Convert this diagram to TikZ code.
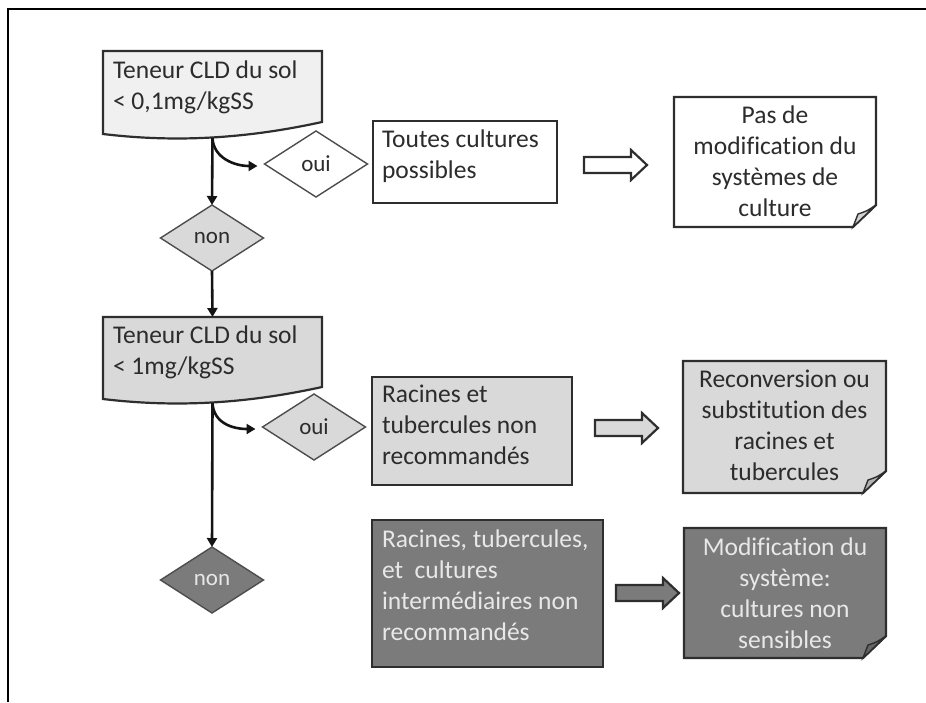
\documentclass[tikz,border=0pt]{standalone}
\usepackage{fontspec}
\setmainfont[Ligatures=NoCommon]{Carlito}
\usetikzlibrary{shapes.geometric,arrows.meta,calc}

\definecolor{ink}{HTML}{2C2C2C}
\definecolor{edge}{HTML}{2E2E2E}
\definecolor{paleA}{HTML}{F0F0F0}
\definecolor{lightB}{HTML}{D9D9D9}
\definecolor{darkC}{HTML}{7B7B7B}
\definecolor{onDark}{HTML}{E8E8E8}

\newcommand\boxfont{\fontsize{25.5}{31}\selectfont}

% document sheet with a wavy lower edge, drawn around an empty node
\newcommand\docsheet[2]{%
  \filldraw[outline, fill=#2]
    (#1.south east) -- (#1.north east) -- (#1.north west)
    -- ($(#1.south west)+(0,12)$)
    .. controls ($(#1.south east)+(-152,20)$) and ($(#1.south east)+(-82,18)$) .. (#1.south east)
    -- cycle;}

% note card with a folded lower right corner
\newcommand\notecard[2]{%
  \filldraw[outline, fill=#2]
    (#1.north west) -- (#1.north east) -- ($(#1.south east)+(0,-22)$)
    -- ($(#1.south east)+(-23,0)$) -- (#1.south west) -- cycle;
  \filldraw[outline, line width=1.4pt, fill=#2!82!black]
    ($(#1.south east)+(-23,0)$) -- ($(#1.south east)+(-18,-13)$)
    .. controls ($(#1.south east)+(-9,-16)$) .. ($(#1.south east)+(0,-22)$) -- cycle;}

% wide hollow arrow: start x, centre y, fill
\newcommand\blockarrow[3]{%
  \filldraw[outline, fill=#3]
    (#1,#2-8) -- ++(47,0) -- ++(0,-7) -- ++(16,15) -- ++(-16,15)
    -- ++(0,-7) -- ++(-47,0) -- cycle;}

\begin{document}
\begin{tikzpicture}[x=1pt,y=-1pt,
  outline/.style={draw=edge, line width=2.2pt, line join=miter},
  frame/.style={rectangle, inner sep=0, outer sep=0, anchor=north west},
  cardbox/.style={frame, outline},
  txt/.style={inner sep=0, outer sep=0, font=\boxfont, text=ink, align=left, anchor=north west},
  ctxt/.style={txt, align=center, anchor=north},
  dia/.style={diamond, draw=edge!85, line width=1.4pt, minimum width=103, minimum height=66,
              inner sep=0, outer sep=0, font=\fontsize{23}{25}\selectfont, text=ink},
  flow/.style={draw=black!92, line width=2.6pt, -{Triangle[length=9pt,width=10pt]}}
]
\useasboundingbox (0,0) rectangle (926,702);

% page frame
\draw[line width=2.6pt, black] (926,9) -- (8,9) -- (8,702);

% ---------- first test: < 0,1 mg/kgSS ----------
\node[frame, minimum width=219, minimum height=71] (doc1) at (103,51) {};
\docsheet{doc1}{paleA}
\node[txt] (doc1-t) at ($(doc1.north west)+(10,6)$) {\strut Teneur CLD du sol\\{<} 0,1mg/kgSS};

\node[dia, fill=white] (oui1) at (316,164) {oui};
\node[dia, fill=lightB] (non1) at (212,238) {non};

\node[cardbox, fill=white, minimum width=184, minimum height=82] (cult1) at (373,121) {};
\node[txt] (cult1-t) at ($(cult1.north west)+(9,5)$) {\strut Toutes cultures\\possibles};

\blockarrow{584}{165}{white}

\node[frame, minimum width=202, minimum height=130] (note1) at (674,97) {};
\notecard{note1}{white}
\node[ctxt] (note1-t) at ($(note1.north)+(0,4.3)$) {\strut Pas de\\modification du\\systèmes de\\culture};

\coordinate (d1s) at ($(doc1.south)+(0,16)$);
\draw[flow] (d1s) .. controls ($(d1s)+(1,20)$) and ($(oui1.west)+(-30,2)$) .. ($(oui1.west)+(-7,2)$);
\draw[flow] (d1s) -- (non1.north);

% ---------- second test: < 1 mg/kgSS ----------
\node[frame, minimum width=219, minimum height=70] (doc2) at (103,317) {};
\docsheet{doc2}{lightB}
\node[txt] (doc2-t) at ($(doc2.north west)+(10,4.5)$) {\strut Teneur CLD du sol\\{<} 1mg/kgSS};

\draw[flow] (non1.south) -- (doc2.north);

\node[dia, fill=lightB] (oui2) at (314,427) {oui};
\node[dia, fill=darkC, text=onDark] (non2) at (212,580) {non};

\node[cardbox, fill=lightB, minimum width=200, minimum height=108] (cult2) at (372,377) {};
\node[txt] (cult2-t) at ($(cult2.north west)+(10,3.5)$) {\strut Racines et\\tubercules non\\recommandés};

\blockarrow{595}{428}{lightB}

\node[frame, minimum width=203, minimum height=132] (note2) at (683,361) {};
\notecard{note2}{lightB}
\node[ctxt] (note2-t) at ($(note2.north)+(0,4.3)$) {\strut Reconversion ou\\substitution des\\racines et\\tubercules};

\coordinate (d2s) at ($(doc2.south)+(0,16)$);
\draw[flow] (d2s) .. controls ($(d2s)+(1,20)$) and ($(oui2.west)+(-30,2)$) .. ($(oui2.west)+(-7,2)$);
\draw[flow] (d2s) -- (non2.north);

% ---------- above 1 mg/kgSS ----------
\node[cardbox, fill=darkC, minimum width=231, minimum height=147] (cult3) at (372,520) {};
\node[txt, text=onDark] (cult3-t) at ($(cult3.north west)+(10,5.3)$) {\strut Racines, tubercules,\\et\ \ cultures\\intermédiaires non\\recommandés};

\blockarrow{616}{593}{darkC}

\node[frame, minimum width=202, minimum height=130] (note3) at (684,528) {};
\notecard{note3}{darkC}
\node[ctxt, text=onDark] (note3-t) at ($(note3.north)+(0,5.3)$) {\strut Modification du\\système:\\cultures non\\sensibles};
\end{tikzpicture}
\end{document}
